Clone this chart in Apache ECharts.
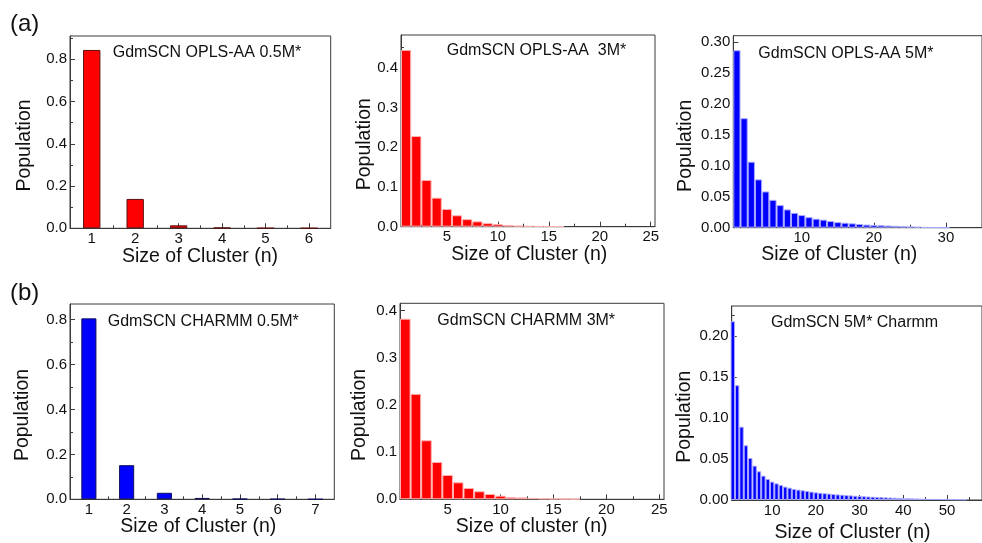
<!DOCTYPE html>
<html>
<head>
<meta charset="utf-8">
<script src="https://cdn.jsdelivr.net/npm/echarts@6/dist/echarts.min.js"></script>
<style>
html,body{margin:0;padding:0;background:#fff;}
#chart{width:982px;height:543px;}
</style>
</head>
<body>
<div id="chart"></div>
<script>
// ---- data ----
const popOpls05 = [0.844, 0.139, 0.014, 0.003, 0.001, 0.0005];
const popOpls3 = [0.4445, 0.228, 0.1175, 0.073, 0.0445, 0.0287, 0.019, 0.0135, 0.009, 0.0068,
  0.0045, 0.003, 0.002, 0.0013, 0.0008, 0.0005];
const popOpls5 = [0.2865, 0.1768, 0.1065, 0.078, 0.0585, 0.045, 0.0365, 0.0295, 0.024, 0.0204,
  0.017, 0.0145, 0.013, 0.0107, 0.009, 0.008, 0.007, 0.006, 0.005, 0.0045,
  0.004, 0.0035, 0.003, 0.0025, 0.002, 0.0015, 0.0008, 0.0005, 0.0003, 0.0002];
const popCharmm05 = [0.806, 0.152, 0.029, 0.006, 0.002, 0.001, 0.0003];
const popCharmm3 = [0.3824, 0.2233, 0.125, 0.079, 0.0515, 0.036, 0.024, 0.017, 0.0112, 0.0077,
  0.005, 0.004, 0.003, 0.002, 0.0015, 0.001, 0.0005];
const popCharmm5 = [0.218, 0.14, 0.0894, 0.0667, 0.0512, 0.0419, 0.035, 0.0297, 0.0256, 0.0224,
  0.0203, 0.0183, 0.0163, 0.015, 0.0134, 0.0126, 0.0118, 0.011, 0.0102, 0.0093,
  0.0088, 0.0083, 0.0078, 0.0073, 0.0068, 0.0064, 0.006, 0.0056, 0.0052, 0.0049,
  0.0046, 0.0043, 0.004, 0.0037, 0.0034, 0.0032, 0.003, 0.0028, 0.0026, 0.0024,
  0.0022, 0.002, 0.0019, 0.0017, 0.0016, 0.0014, 0.0013, 0.0012, 0.0011, 0.001,
  0.0009, 0.0008, 0.0007, 0.0006];

const titles = ['GdmSCN OPLS-AA 0.5M*', 'GdmSCN OPLS-AA  3M*', 'GdmSCN OPLS-AA 5M*',
  'GdmSCN CHARMM 0.5M*', 'GdmSCN CHARMM 3M*', 'GdmSCN 5M* Charmm'];
const xNames = ['Size of Cluster (n)', 'Size of Cluster (n)', 'Size of Cluster (n)',
  'Size of Cluster (n)', 'Size of cluster (n)', 'Size of Cluster (n)'];
const yName = 'Population';
const panelTags = ['(a)', '(b)'];

const xMajor = [[1,2,3,4,5,6],[5,10,15,20,25],[10,20,30],[1,2,3,4,5,6,7],[5,10,15,20,25],[10,20,30,40,50]];
const xMinor = [[1.5,2.5,3.5,4.5,5.5],[2.5,7.5,12.5,17.5,22.5],[5,15,25],[1.5,2.5,3.5,4.5,5.5,6.5],[2.5,7.5,12.5,17.5,22.5],[5,15,25,35,45,55]];
const yMajor = [[0,0.2,0.4,0.6,0.8],[0,0.1,0.2,0.3,0.4],[0,0.05,0.1,0.15,0.2,0.25,0.3],[0,0.2,0.4,0.6,0.8],[0,0.1,0.2,0.3,0.4],[0,0.05,0.1,0.15,0.2]];
const yMinor = [[0.1,0.3,0.5,0.7,0.9],[0.05,0.15,0.25,0.35,0.45],[0.025,0.075,0.125,0.175,0.225,0.275],[0.1,0.3,0.5,0.7],[0.05,0.15,0.25,0.35],[0.025,0.075,0.125,0.175,0.225]];
const yDigits = [1,1,2,1,1,2];

const series = [popOpls05, popOpls3, popOpls5, popCharmm05, popCharmm3, popCharmm5];

// ---- layout & style ----
const FONT = '"Liberation Sans", Arial, Helvetica, sans-serif';
const AX = '#3a3a3a';
const RED = '#ff0000', BLUE = '#0000ff';
const layout = [
  {grid:{left:70, top:36, width:260.7, height:192.3}, x:[0.5,6.5], y:0.91, color:RED, border:'#5a1010', bw:'40%',
   title:[112.7,52.3], yn:[24.5,145.5], xn:[200,256.5]},
  {grid:{left:401, top:35, width:254, height:191.7}, x:[0.5,25.42], y:0.482, color:RED, border:'#ffb3b3', bw:'100%',
   title:[446.7,51], yn:[364.5,144.2], xn:[529.2,254.5]},
  {grid:{left:733.3, top:35.7, width:254.2, height:192}, x:[0.5,35], y:0.31, color:BLUE, border:'#a8a8ff', bw:'100%',
   title:[758.3,54], yn:[685.5,145.8], xn:[839.2,254.5]},
  {grid:{left:70, top:304, width:264.3, height:195.3}, x:[0.5,7.5], y:0.87, color:BLUE, border:'#10105a', bw:'40%',
   title:[107.7,321.7], yn:[22.5,415], xn:[198.3,526.5]},
  {grid:{left:400, top:303.3, width:264, height:196}, x:[0.5,25.44], y:0.415, color:RED, border:'#ffb3b3', bw:'100%',
   title:[437.3,320.3], yn:[360,415], xn:[531.7,526.5]},
  {grid:{left:731.7, top:306, width:253.8, height:194}, x:[0.75,58], y:0.2366, color:BLUE, border:'#a8a8ff', bw:'100%',
   title:[771,322.7], yn:[685,416.7], xn:[852.5,532.5]}
];

const grids = [], xAxes = [], yAxes = [], seriesOpt = [], graphics = [];
function txt(text, x, y, size, opts) {
  opts = opts || {};
  return {
    type: 'text', x: x, y: y, rotation: opts.rot || 0, silent: true, z: 100,
    style: {
      text: text, fill: '#111', font: size + 'px ' + FONT,
      fontSize: size, fontFamily: FONT,
      textAlign: opts.align || 'left', align: opts.align || 'left',
      textVerticalAlign: 'middle', verticalAlign: 'middle'
    }
  };
}

layout.forEach(function (L, i) {
  grids.push(Object.assign({show: true, borderColor: AX, borderWidth: 1, backgroundColor: 'transparent', containLabel: false}, L.grid));
  xAxes.push({
    type: 'value', gridIndex: i, position: 'bottom', min: L.x[0], max: L.x[1],
    axisLine: {show: true, onZero: false, lineStyle: {color: AX, width: 1}},
    axisTick: {show: true, inside: true, length: 5, lineStyle: {color: AX}, customValues: xMajor[i]},
    axisLabel: {show: true, margin: 3, color: '#111', fontSize: 15, fontFamily: FONT, customValues: xMajor[i],
      formatter: function (v) { return String(Math.round(v)); }},
    splitLine: {show: false}
  });
  xAxes.push({
    type: 'value', gridIndex: i, position: 'bottom', min: L.x[0], max: L.x[1],
    axisLine: {show: false},
    axisTick: {show: true, inside: true, length: 3, lineStyle: {color: AX}, customValues: xMinor[i]},
    axisLabel: {show: false}, splitLine: {show: false}
  });
  yAxes.push({
    type: 'value', gridIndex: i, position: 'left', min: 0, max: L.y,
    axisLine: {show: true, onZero: false, lineStyle: {color: AX, width: 1}},
    axisTick: {show: true, inside: true, length: 5, lineStyle: {color: AX}, customValues: yMajor[i]},
    axisLabel: {show: true, margin: 3, color: '#111', fontSize: 15, fontFamily: FONT, customValues: yMajor[i],
      formatter: (function (d) { return function (v) { return v.toFixed(d); }; })(yDigits[i])},
    splitLine: {show: false}
  });
  yAxes.push({
    type: 'value', gridIndex: i, position: 'left', min: 0, max: L.y,
    axisLine: {show: false},
    axisTick: {show: true, inside: true, length: 3, lineStyle: {color: AX}, customValues: yMinor[i]},
    axisLabel: {show: false}, splitLine: {show: false}
  });
  seriesOpt.push({
    type: 'bar', xAxisIndex: 2 * i, yAxisIndex: 2 * i,
    data: series[i].map(function (v, k) { return [k + 1, v]; }),
    barWidth: L.bw, clip: true, silent: true,
    itemStyle: {color: L.color, borderColor: L.border, borderWidth: 1}
  });
  graphics.push(txt(titles[i], L.title[0], L.title[1], 16));
  graphics.push(txt(yName, L.yn[0], L.yn[1], 19.5, {rot: Math.PI / 2, align: 'center'}));
  graphics.push(txt(xNames[i], L.xn[0], L.xn[1], 19.5, {align: 'center'}));
});
graphics.push(txt(panelTags[0], 10, 24, 24));
graphics.push(txt(panelTags[1], 10, 293, 24));

const chart = echarts.init(document.getElementById('chart'), null, {renderer: 'canvas'});
chart.setOption({
  animation: false,
  backgroundColor: '#ffffff',
  textStyle: {fontFamily: FONT},
  grid: grids,
  xAxis: xAxes,
  yAxis: yAxes,
  series: seriesOpt,
  graphic: graphics
});
</script>
</body>
</html>
